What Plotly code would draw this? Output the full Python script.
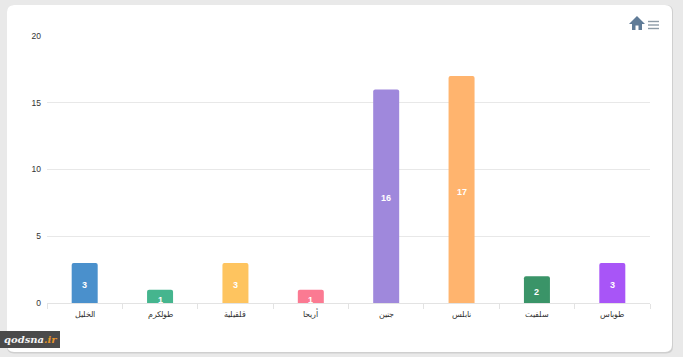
import plotly.graph_objects as go

categories = ["الخليل", "طولكرم", "قلقيلية", "أريحا", "جنين", "نابلس", "سلفيت", "طوباس"]
values = [3, 1, 3, 1, 16, 17, 2, 3]
colors = ["#4a90cc", "#45b58e", "#fec45f", "#fb7a92", "#9f88dc", "#ffb46e", "#3a9468", "#a855f7"]
y_ticks = [0, 5, 10, 15, 20]

W, H = 683, 357
L, R, T, B = 47, 33, 36, 54
pw, ph = W - L - R, H - T - B


def px(x):
    return (x - L) / pw


def py(y):
    return 1 - (y - T) / ph


def path(cmds):
    out = []
    for c in cmds:
        if len(c) == 1:
            out.append(c[0])
        else:
            out.append(f"{c[0]} {px(c[1]):.5f} {py(c[2]):.5f}")
    return " ".join(out)


def rounded(x0, y0, x1, y1, r):
    pts = (f"M {px(x0+r):.5f} {py(y0):.5f} L {px(x1-r):.5f} {py(y0):.5f} "
           f"Q {px(x1):.5f} {py(y0):.5f} {px(x1):.5f} {py(y0+r):.5f} "
           f"L {px(x1):.5f} {py(y1-r):.5f} Q {px(x1):.5f} {py(y1):.5f} {px(x1-r):.5f} {py(y1):.5f} "
           f"L {px(x0+r):.5f} {py(y1):.5f} Q {px(x0):.5f} {py(y1):.5f} {px(x0):.5f} {py(y1-r):.5f} "
           f"L {px(x0):.5f} {py(y0+r):.5f} Q {px(x0):.5f} {py(y0):.5f} {px(x0+r):.5f} {py(y0):.5f} Z")
    return pts


home = path([("M", 637, 16), ("L", 629, 24), ("L", 632, 24), ("L", 632, 30), ("L", 635.5, 30),
             ("L", 635.5, 25.5), ("L", 638.5, 25.5), ("L", 638.5, 30), ("L", 642, 30), ("L", 642, 24),
             ("L", 645, 24), ("Z",)])

shapes = [
    dict(type="path", path=rounded(7, 5, 673, 353.5, 7), xref="paper", yref="paper",
         fillcolor="#cfcfcf", line=dict(width=0), layer="below"),
    dict(type="path", path=rounded(7, 5, 672, 352, 7), xref="paper", yref="paper",
         fillcolor="#ffffff", line=dict(width=0), layer="below"),
    dict(type="path", path=home, xref="paper", yref="paper", fillcolor="#5f7b97", line=dict(width=0)),
]
for yy in (21.5, 25, 28.5):
    shapes.append(dict(type="line", xref="paper", yref="paper", x0=px(648), x1=px(659), y0=py(yy), y1=py(yy),
                       line=dict(color="#8d9ba6", width=1.4)))
shapes.append(dict(type="rect", xref="paper", yref="paper", x0=px(0), x1=px(60), y0=py(331), y1=py(348),
                   fillcolor="#4a4a4a", line=dict(width=0)))

value_labels = [dict(
    x=c, y=v / 2, xref="x", yref="y", text=f"<b>{v}</b>", showarrow=False, yshift=-3.5 if v == 1 else -2,
    font=dict(family="Liberation Sans, Arial", size=9, color="#ffffff"),
) for c, v in zip(categories, values)]

fig = go.Figure(go.Bar(
    x=categories,
    y=values,
    width=0.345,
    marker=dict(color=colors, line=dict(width=0), cornerradius=2),
    hoverinfo="skip",
))

fig.update_layout(
    width=W, height=H,
    margin=dict(l=L, r=R, t=T, b=B, pad=0),
    paper_bgcolor="#e9e9e9",
    plot_bgcolor="rgba(0,0,0,0)",
    showlegend=False,
    shapes=shapes,
    annotations=value_labels + [dict(
        xref="paper", yref="paper", x=px(30), y=py(339.5), xanchor="center", yanchor="middle", showarrow=False,
        text='<b><i>qodsna<span style="color:#e8962a">.ir</span></i></b>',
        font=dict(family="DejaVu Serif", size=10, color="#f4f4f4"),
    )],
    font=dict(family="Liberation Sans, Arial", color="#333333"),
    xaxis=dict(
        type="category", categoryorder="array", categoryarray=categories,
        range=[-0.5, 7.5], showgrid=False, zeroline=False, showline=True, linecolor="#e3e3e3", linewidth=1,
        ticks="outside", ticklen=5, tickcolor="#e3e3e3", tickwidth=1, tickson="boundaries",
        tickfont=dict(size=7.5, color="#333333"), ticklabelstandoff=4, fixedrange=True,
    ),
    yaxis=dict(
        range=[0, 20], tickvals=y_ticks, showgrid=True, gridcolor="#e8e8e8", gridwidth=1, zeroline=False,
        showline=False, ticks="", tickfont=dict(size=8.5, color="#333333"), ticklabelstandoff=5, fixedrange=True,
    ),
)

fig.write_html("out.html", config=dict(displayModeBar=False),
               post_script="document.body.style.margin='0';document.documentElement.style.overflow='hidden';")
